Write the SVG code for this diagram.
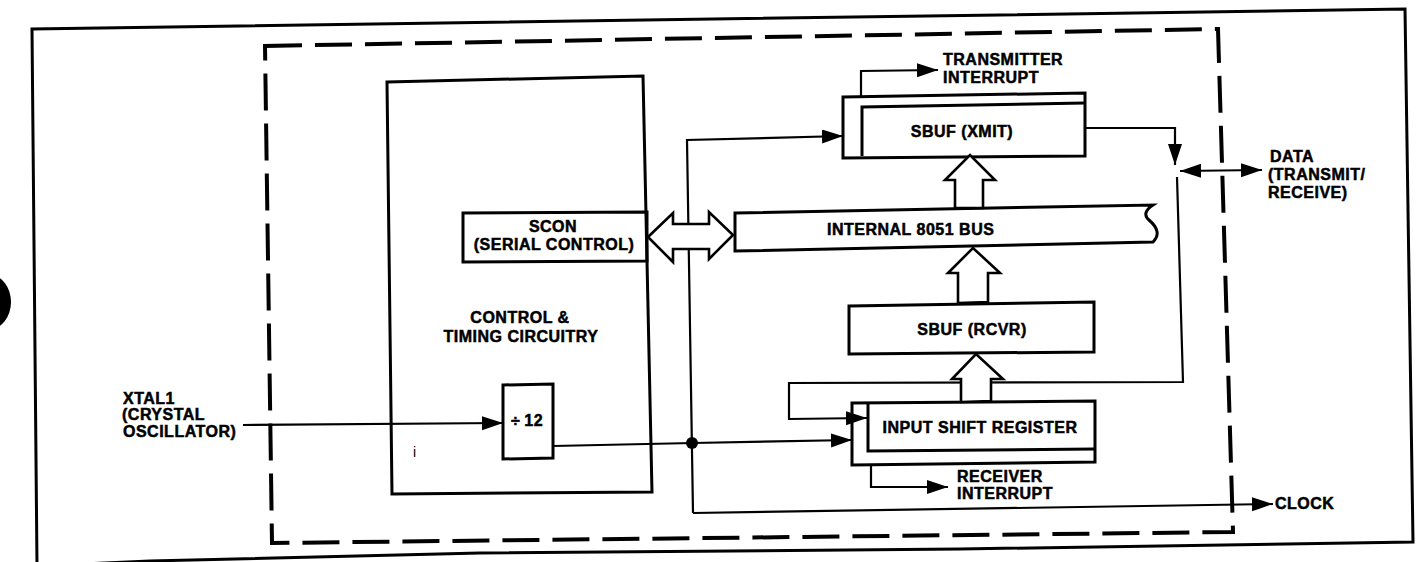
<svg xmlns="http://www.w3.org/2000/svg" width="1425" height="562" viewBox="0 0 1425 562">
<defs>
<style>
.box{fill:none;stroke:#000;stroke-width:3;stroke-linejoin:miter}
.frame{fill:none;stroke:#000;stroke-width:3}
.dash{fill:none;stroke:#000;stroke-width:4;stroke-dasharray:37 13}
.wire{fill:none;stroke:#000;stroke-width:2.2}
.hollow{fill:#fff;stroke:#000;stroke-width:2.6;stroke-linejoin:miter}
.t{font-family:"Liberation Sans",Arial,Helvetica,sans-serif;font-weight:bold;font-size:16px;letter-spacing:0.5px;fill:#000;stroke:#000;stroke-width:0.5px}
.m{text-anchor:middle}
</style>
<marker id="ah" markerUnits="userSpaceOnUse" markerWidth="24" markerHeight="15" refX="21" refY="7" orient="auto-start-reverse">
<path d="M0,0 L21,7 L0,14 Z" fill="#000"/>
</marker>
</defs>
<rect x="0" y="0" width="1425" height="562" fill="#fff"/>
<ellipse cx="-10" cy="302" rx="21" ry="27" fill="#000"/>
<polyline class="frame" points="37,566 32,29 1405,9 1413,542 960,549 480,553 150,561 37,566"/>
<polygon class="dash" points="265,46 1218,29 1233,532 272,543"/>
<g id="control">
<polygon class="box" points="387,82 643,76 652,492 392,494"/>
<text class="t m" x="520" y="323">CONTROL &amp;</text>
<text class="t m" x="521" y="342">TIMING CIRCUITRY</text>
<text x="413" y="457" style="font-family:'Liberation Sans',Arial,sans-serif;font-size:14px">i</text>
</g>
<g id="connectors">
<polyline class="wire" points="243,425 503,423" marker-end="url(#ah)"/>
<polyline class="wire" points="553,446 693,443 852,440" marker-end="url(#ah)"/>
<polyline class="wire" points="693,513 687,140 843,136" marker-end="url(#ah)"/>
<polyline class="wire" points="693,513 1273,504" marker-end="url(#ah)"/>
<circle cx="692" cy="443" r="6" fill="#000"/>
<polyline class="wire" points="861,96 861,71 938,70" marker-end="url(#ah)"/>
<polyline class="wire" points="1085,128 1175,128 1175,165" marker-end="url(#ah)"/>
<line class="wire" x1="1180" y1="171" x2="1262" y2="170" marker-start="url(#ah)" marker-end="url(#ah)"/>
<polyline class="wire" points="1177,177 1183,382 789,383 789,419 867,418" marker-end="url(#ah)"/>
<polyline class="wire" points="871,465 871,487 948,487" marker-end="url(#ah)"/>
</g>
<g id="scon">
<polygon class="box" points="463,213 647,212 647,261 463,262"/>
<text class="t m" x="553" y="232">SCON</text>
<text class="t m" x="554" y="250">(SERIAL CONTROL)</text>
</g>
<g id="div12">
<polygon class="box" points="503,385 553,384 553,458 503,459"/>
<text class="t" x="511" y="426">÷<tspan dx="4">12</tspan></text>
</g>
<g id="bus">
<path class="box" d="M735,213 L1153,205 Q1141,213 1149,220 Q1163,232 1153,242 L735,251 Z"/>
<text class="t" x="827" y="235">INTERNAL 8051 BUS</text>
</g>
<g id="sbuf-xmit">
<polygon class="box" points="843,97 1085,93 1085,156 843,158"/>
<polyline class="box" points="862,156 862,107 1085,103"/>
<text class="t m" x="962" y="137">SBUF (XMIT)</text>
</g>
<g id="sbuf-rcvr">
<polygon class="box" points="849,306 1094,302 1094,352 849,354"/>
<text class="t m" x="972" y="335">SBUF (RCVR)</text>
</g>
<g id="input-shift">
<polygon class="box" points="852,403 1095,401 1095,462 852,465"/>
<polyline class="box" points="868,404 868,451 1095,449"/>
<text class="t m" x="980" y="433">INPUT SHIFT REGISTER</text>
</g>
<g id="bus-arrows">
<polygon class="hollow" points="648,237 673,213 673,224 709,224 709,212 733,235 709,259 709,249 673,249 673,262"/>
<polygon class="hollow" points="955,208 955,180 945,180 970,155 995,180 983,180 983,208"/>
<polygon class="hollow" points="958,303 958,273 948,273 973,248 1000,273 988,273 988,302"/>
<polygon class="hollow" points="961,402 961,379 952,379 976,354 1003,379 991,379 991,401"/>
</g>
<g id="labels">
<text class="t" x="943" y="65">TRANSMITTER</text>
<text class="t" x="943" y="83">INTERRUPT</text>
<text class="t" x="1270" y="162">DATA</text>
<text class="t" x="1268" y="180">(TRANSMIT/</text>
<text class="t" x="1268" y="198">RECEIVE)</text>
<text class="t" x="123" y="404">XTAL1</text>
<text class="t" x="122" y="420">(CRYSTAL</text>
<text class="t" x="123" y="437">OSCILLATOR)</text>
<text class="t" x="957" y="482">RECEIVER</text>
<text class="t" x="957" y="499">INTERRUPT</text>
<text class="t" x="1275" y="509">CLOCK</text>
</g>
</svg>
